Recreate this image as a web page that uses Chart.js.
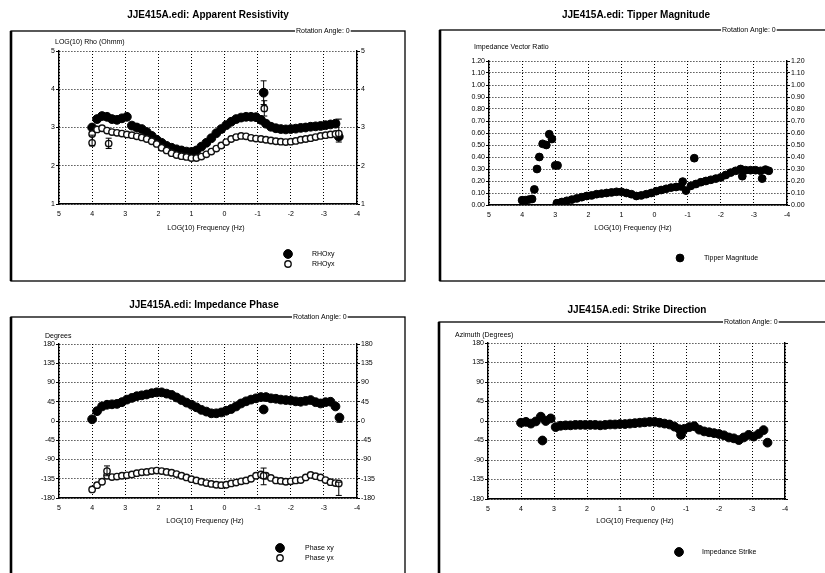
<!DOCTYPE html>
<html><head><meta charset="utf-8">
<script src="https://cdn.jsdelivr.net/npm/chart.js@4.4.1/dist/chart.umd.min.js"></script>
<style>
html,body{margin:0;padding:0;background:#fff;width:825px;height:573px;overflow:hidden}
canvas{position:absolute;left:0;top:0}
</style></head><body>
<canvas id="c1" width="825" height="573"></canvas>
<canvas id="c2" width="825" height="573"></canvas>
<canvas id="c3" width="825" height="573"></canvas>
<canvas id="c4" width="825" height="573"></canvas>
<script>
// ---------- DATA ----------
const xTicks = [5, 4, 3, 2, 1, 0, -1, -2, -3, -4];
const freq = [4.0, 3.85, 3.7, 3.55, 3.4, 3.25, 3.1, 2.95, 2.8, 2.65, 2.5, 2.35, 2.2, 2.05, 1.9, 1.75,
  1.6, 1.45, 1.3, 1.15, 1.0, 0.85, 0.7, 0.55, 0.4, 0.25, 0.1, -0.05, -0.2, -0.35, -0.5, -0.65,
  -0.8, -0.95, -1.1, -1.25, -1.4, -1.55, -1.7, -1.85, -2.0, -2.15, -2.3, -2.45, -2.6, -2.75, -2.9, -3.05,
  -3.2, -3.35, -3.45];

const rhoxy = [3.0, 3.22, 3.3, 3.28, 3.22, 3.2, 3.24, 3.28, 3.05, 3.0, 2.96, 2.88, 2.78, 2.68, 2.6, 2.52,
  2.47, 2.43, 2.4, 2.37, 2.36, 2.4, 2.5, 2.6, 2.72, 2.85, 2.96, 3.06, 3.15, 3.22, 3.26, 3.28,
  3.28, 3.27, 3.2, 3.1, 3.02, 2.98, 2.96, 2.95, 2.96, 2.97, 2.99, 3.0, 3.02, 3.03, 3.04, 3.06,
  3.08, 3.1, 2.76];
const rhoxyOutX = [-1.18];
const rhoxyOutY = [3.91];
const rhoyx = [2.83, 2.95, 2.98, 2.92, 2.88, 2.86, 2.84, 2.82, 2.8, 2.77, 2.74, 2.7, 2.64, 2.57, 2.47, 2.4,
  2.33, 2.28, 2.25, 2.23, 2.2, 2.2, 2.24, 2.3, 2.37, 2.45, 2.53, 2.62, 2.7, 2.75, 2.78, 2.77,
  2.73, 2.71, 2.7, 2.68, 2.66, 2.64, 2.63, 2.62, 2.63, 2.65, 2.68, 2.7, 2.72, 2.75, 2.78, 2.8,
  2.82, 2.83, 2.84];
const rhoyxOutX = [4.0, 3.5, -1.2];
const rhoyxOutY = [2.6, 2.58, 3.5];
const resErrX = [4.0, 3.5, -1.18, -1.2, -3.45];
const resErrLo = [2.52, 2.45, 3.6, 3.3, 2.62];
const resErrHi = [2.8, 2.72, 4.22, 3.7, 3.22];

const tipTicks = [0, 0.1, 0.2, 0.3, 0.4, 0.5, 0.6, 0.7, 0.8, 0.9, 1.0, 1.1, 1.2];
const tipEarlyX = [4.0, 3.9, 3.8, 3.7, 3.63, 3.55, 3.48, 3.38, 3.27, 3.18, 3.1, 3.0, 2.93];
const tipEarlyY = [0.04, 0.04, 0.045, 0.05, 0.13, 0.30, 0.40, 0.51, 0.50, 0.59, 0.55, 0.33, 0.33];
const tipper = [null, null, null, null, null, null, null, 0.015, 0.025, 0.035, 0.045, 0.055, 0.065, 0.075, 0.08, 0.09,
  0.095, 0.1, 0.105, 0.11, 0.11, 0.1, 0.09, 0.075, 0.08, 0.09, 0.1, 0.115, 0.125, 0.135, 0.145, 0.15,
  0.155, 0.12, 0.16, 0.175, 0.19, 0.2, 0.21, 0.22, 0.23, 0.25, 0.27, 0.285, 0.3, 0.29, 0.29, 0.29,
  0.285, 0.295, 0.285];
const tipOutX = [-0.85, -1.2, -2.65, -3.25];
const tipOutY = [0.195, 0.39, 0.24, 0.22];

const degTicks = [-180, -135, -90, -45, 0, 45, 90, 135, 180];
const phaseXY = [4, 23, 34, 38, 39, 40, 44, 50, 54, 58, 60, 62, 65, 67, 67, 64,
  61, 55, 49, 43, 38, 32, 26, 22, 18, 18, 20, 24, 28, 34, 41, 46,
  50, 53, 56, 56, 53, 52, 50, 49, 48, 46, 45, 47, 49, 44, 41, 44,
  45, 34, null];
const phaseXYOutX = [-1.18, -3.47];
const phaseXYOutY = [27, 8];
const phaseYX = [-160, -150, -142, -128, -131, -130, -128, -127, -125, -122, -120, -119, -117, -116, -117, -119,
  -121, -124, -128, -132, -136, -139, -142, -145, -147, -149, -150, -149, -146, -144, -141, -139,
  -135, -128, -125, -128, -133, -139, -140, -142, -141, -139, -138, -132, -126, -129, -132, -138,
  -143, -145, -146];
const phaseYXOutX = [3.55, -1.18];
const phaseYXOutY = [-117, -128];
const phaseErrX = [3.55, -1.18, -3.45, -3.47];
const phaseErrLo = [-128, -149, -174, -3];
const phaseErrHi = [-105, -110, -143, 14];

const strike = [-4, -2, -6, -1, 10, 0, 6, -14, -11, -10, -10, -9, -9, -9, -9, -9,
  -10, -9, -8, -8, -7, -7, -6, -5, -4, -3, -2, -2, -4, -6, -8, -13,
  -19, -18, -14, -12, -20, -24, -26, -28, -30, -33, -38, -40, -44, -38, -32, -36,
  -30, -21, null];
const strikeOutX = [3.35, -0.85, -3.47];
const strikeOutY = [-45, -32, -50];

// ---------- HELPERS ----------
const FONT = '"Liberation Sans", Arial, sans-serif';
const W = 825, H = 573;
function pts(xs, ys) { return xs.map((x, i) => ({x: x, y: ys[i]})); }

const decor = {
  id: 'decor',
  afterDraw(chart, args, o) {
    const ctx = chart.ctx;
    const f = o.frame;
    ctx.save();
    ctx.strokeStyle = '#000';
    ctx.lineWidth = 1.3;
    ctx.strokeRect(f[0], f[1], f[2] - f[0], f[3] - f[1]);
    ctx.lineWidth = 2.6;
    ctx.beginPath(); ctx.moveTo(f[0], f[1]); ctx.lineTo(f[0], f[3]); ctx.stroke();
    ctx.font = '7px ' + FONT;
    const tw = ctx.measureText(o.rot[0]).width;
    ctx.fillStyle = '#fff';
    ctx.fillRect(o.rot[1] - 1, f[1] - 4, tw + 2, 8);
    ctx.fillStyle = '#000';
    ctx.textBaseline = 'middle';
    ctx.textAlign = 'left';
    ctx.fillText(o.rot[0], o.rot[1], f[1] + 0.5);
    ctx.font = 'bold 10px ' + FONT;
    ctx.textAlign = 'center';
    ctx.fillText(o.title[0], o.title[1], o.title[2]);
    ctx.font = '7px ' + FONT;
    ctx.textAlign = 'left';
    ctx.fillText(o.yTitle[0], o.yTitle[1], o.yTitle[2]);
    ctx.textAlign = 'center';
    ctx.fillText(o.xTitle[0], o.xTitle[1], o.xTitle[2]);
    // legend
    o.legend.forEach(it => {
      const ds = chart.data.datasets[it.ds];
      ctx.beginPath();
      ctx.arc(it.x, it.y, ds.pointRadius, 0, Math.PI * 2);
      ctx.fillStyle = ds.pointBackgroundColor;
      ctx.fill();
      ctx.lineWidth = ds.pointBorderWidth;
      ctx.strokeStyle = ds.pointBorderColor;
      ctx.stroke();
      ctx.fillStyle = '#000';
      ctx.textAlign = 'left';
      ctx.font = '7px ' + FONT;
      ctx.fillText(ds.label, it.tx, it.y);
    });
    ctx.restore();
  }
};

const errbars = {
  id: 'errbars',
  afterDatasetsDraw(chart, args, o) {
    if (!o.x) return;
    const ctx = chart.ctx, xs = chart.scales.x, ys = chart.scales.y;
    ctx.save();
    ctx.strokeStyle = '#000';
    ctx.lineWidth = 1;
    o.x.forEach((v, i) => {
      const px = xs.getPixelForValue(v);
      const p1 = ys.getPixelForValue(o.lo[i]);
      const p2 = ys.getPixelForValue(o.hi[i]);
      ctx.beginPath();
      ctx.moveTo(px, p1); ctx.lineTo(px, p2);
      ctx.moveTo(px - 3, p1); ctx.lineTo(px + 3, p1);
      ctx.moveTo(px - 3, p2); ctx.lineTo(px + 3, p2);
      ctx.stroke();
    });
    ctx.restore();
  }
};

function filled(label, data, r) {
  return {label, data, pointRadius: r, pointBackgroundColor: '#000', pointBorderColor: '#000',
    pointBorderWidth: 1, showLine: false};
}
function open(label, data, r) {
  return {label, data, pointRadius: r, pointBackgroundColor: '#fff', pointBorderColor: '#111',
    pointBorderWidth: 1.4, showLine: false};
}

function makePanel(id, area, yMin, yMax, yTicks, yFmt, showRight, datasets, dec, err) {
  const [L, T, R, B] = area;
  const yw = 40, xh = 30;
  const tickFont = {family: FONT, size: 7};
  const yAxis = (pos, showLabels, onArea) => ({
    type: 'linear', position: pos, min: yMin, max: yMax,
    afterBuildTicks: s => { s.ticks = yTicks.map(v => ({value: v})); },
    afterFit: s => { s.width = yw; },
    ticks: {display: showLabels, font: tickFont, color: '#000', padding: 1, callback: yFmt},
    grid: {display: true, drawOnChartArea: onArea, drawTicks: true, tickLength: 3,
      color: '#000', tickColor: '#000', lineWidth: 1, tickWidth: 1},
    border: {display: true, color: '#000', width: 1.4, dash: [1, 2]}
  });
  return new Chart(document.getElementById(id), {
    type: 'scatter',
    data: {datasets},
    options: {
      responsive: false, animation: false, devicePixelRatio: 1, events: [],
      layout: {padding: {left: L - yw, right: W - R - yw, top: T, bottom: H - B - xh}},
      plugins: {legend: {display: false}, tooltip: {enabled: false}, title: {display: false},
        decor: dec, errbars: err || {}},
      scales: {
        x: {
          type: 'linear', position: 'bottom', min: -4, max: 5, reverse: true,
          afterBuildTicks: s => { s.ticks = xTicks.map(v => ({value: v})); },
          afterFit: s => { s.height = xh; },
          ticks: {font: tickFont, color: '#000', padding: 6},
          grid: {drawTicks: false, color: '#000', lineWidth: 1},
          border: {display: true, color: '#000', width: 1.4, dash: [1, 2]}
        },
        y: yAxis('left', true, true),
        y2: yAxis('right', showRight, false)
      }
    },
    plugins: [decor, errbars]
  });
}

const intFmt = v => String(v);
const tipFmt = v => Number(v).toFixed(2);

// Panel 1: Apparent Resistivity
makePanel('c1', [59, 51, 357, 204], 1, 5, [1, 2, 3, 4, 5], intFmt, true, [
  open('RHOyx', pts(freq, rhoyx).concat(pts(rhoyxOutX, rhoyxOutY)), 3.2),
  filled('RHOxy', pts(freq, rhoxy).concat(pts(rhoxyOutX, rhoxyOutY)), 4.4)
], {
  frame: [11, 31, 405, 281], rot: ['Rotation Angle: 0', 296],
  title: ['JJE415A.edi: Apparent Resistivity', 208, 15],
  yTitle: ['LOG(10) Rho (Ohmm)', 55, 42], xTitle: ['LOG(10) Frequency (Hz)', 206, 228],
  legend: [{ds: 1, x: 288, y: 254, tx: 312}, {ds: 0, x: 288, y: 264, tx: 312}]
}, {x: resErrX, lo: resErrLo, hi: resErrHi});

// Panel 2: Tipper Magnitude
makePanel('c2', [489, 61, 787, 205], 0, 1.2, tipTicks, tipFmt, true, [
  filled('Tipper Magnitude', pts(tipEarlyX, tipEarlyY).concat(pts(freq, tipper), pts(tipOutX, tipOutY)), 3.9)
], {
  frame: [440, 30, 832, 281], rot: ['Rotation Angle: 0', 722],
  title: ['JJE415A.edi: Tipper Magnitude', 636, 15],
  yTitle: ['Impedance Vector Ratio', 474, 47], xTitle: ['LOG(10) Frequency (Hz)', 633, 228],
  legend: [{ds: 0, x: 680, y: 258, tx: 704}]
});

// Panel 3: Impedance Phase
makePanel('c3', [59, 344, 357, 498], -180, 180, degTicks, intFmt, true, [
  open('Phase yx', pts(freq, phaseYX).concat(pts(phaseYXOutX, phaseYXOutY)), 3.2),
  filled('Phase xy', pts(freq, phaseXY).concat(pts(phaseXYOutX, phaseXYOutY)), 4.4)
], {
  frame: [11, 317, 405, 580], rot: ['Rotation Angle: 0', 293],
  title: ['JJE415A.edi: Impedance Phase', 204, 305],
  yTitle: ['Degrees', 45, 336], xTitle: ['LOG(10) Frequency (Hz)', 205, 521],
  legend: [{ds: 1, x: 280, y: 548, tx: 305}, {ds: 0, x: 280, y: 558, tx: 305}]
}, {x: phaseErrX, lo: phaseErrLo, hi: phaseErrHi});

// Panel 4: Strike Direction
makePanel('c4', [488, 343, 785, 499], -180, 180, degTicks, intFmt, false, [
  filled('Impedance Strike', pts(freq, strike).concat(pts(strikeOutX, strikeOutY)), 4.4)
], {
  frame: [439, 322, 832, 580], rot: ['Rotation Angle: 0', 724],
  title: ['JJE415A.edi: Strike Direction', 637, 310],
  yTitle: ['Azimuth (Degrees)', 455, 335], xTitle: ['LOG(10) Frequency (Hz)', 635, 521],
  legend: [{ds: 0, x: 679, y: 552, tx: 702}]
});
</script>
</body></html>
